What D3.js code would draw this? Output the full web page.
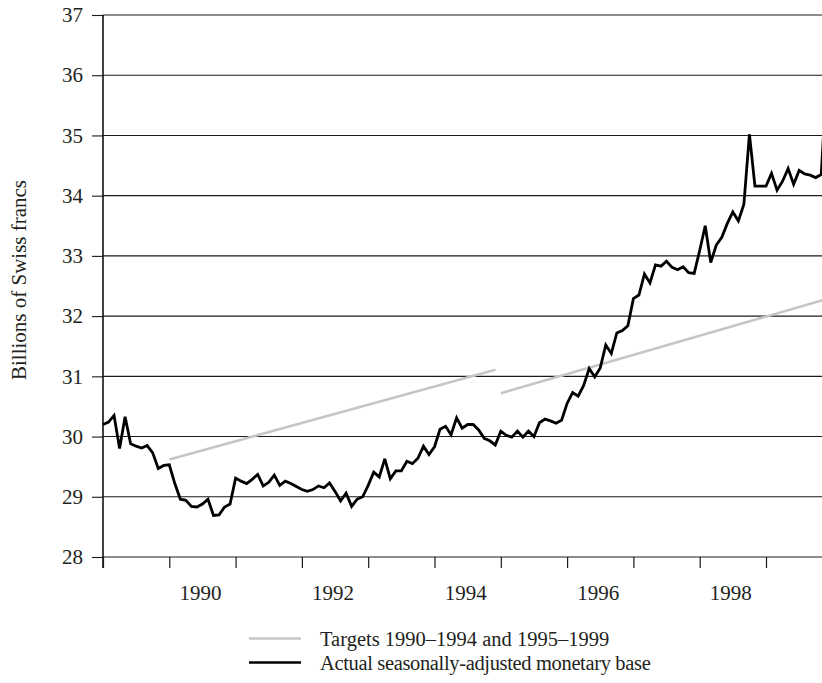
<!DOCTYPE html>
<html><head><meta charset="utf-8">
<script src="https://cdn.jsdelivr.net/npm/d3@7"></script>
<style>
body{margin:0;background:#fff}
svg{display:block}
text{font-family:"Liberation Serif","Times New Roman",serif;fill:#231f20}
</style>
</head><body>
<svg id="chart" width="822" height="683"></svg>
<script>
// ---- data ----
const startYear = 1989; // first monthly observation: Jan 1989
const monetaryBase = [
  // 1989
  30.20, 30.24, 30.35, 29.80, 30.33, 29.88, 29.84, 29.81, 29.85, 29.73, 29.47, 29.52,
  // 1990
  29.53, 29.22, 28.96, 28.94, 28.84, 28.83, 28.88, 28.96, 28.69, 28.70, 28.83, 28.88,
  // 1991
  29.31, 29.26, 29.22, 29.29, 29.37, 29.18, 29.24, 29.36, 29.19, 29.26, 29.22, 29.17,
  // 1992
  29.12, 29.09, 29.12, 29.18, 29.15, 29.23, 29.09, 28.93, 29.06, 28.84, 28.96, 29.00,
  // 1993
  29.19, 29.41, 29.33, 29.63, 29.30, 29.43, 29.43, 29.59, 29.55, 29.64, 29.84, 29.70,
  // 1994
  29.83, 30.12, 30.17, 30.03, 30.31, 30.14, 30.20, 30.20, 30.11, 29.97, 29.93, 29.86,
  // 1995
  30.09, 30.02, 29.99, 30.09, 29.99, 30.09, 30.00, 30.23, 30.29, 30.26, 30.22, 30.27,
  // 1996
  30.55, 30.73, 30.67, 30.85, 31.13, 30.99, 31.14, 31.52, 31.38, 31.72, 31.76, 31.84,
  // 1997
  32.29, 32.35, 32.70, 32.55, 32.85, 32.83, 32.91, 32.81, 32.77, 32.82, 32.72, 32.71,
  // 1998
  33.09, 33.50, 32.89, 33.18, 33.31, 33.54, 33.73, 33.58, 33.86, 35.02, 34.16, 34.16,
  // 1999
  34.16, 34.37, 34.09, 34.24, 34.45, 34.19, 34.42, 34.36, 34.34, 34.30, 34.35, 36.00
];
const target1Years = [1990, 1994.92];
const target1Values = [29.62, 31.11];
const target2Years = [1995, 2000];
const target2Values = [30.72, 32.31];
const yTicks = [28, 29, 30, 31, 32, 33, 34, 35, 36, 37];
const xTickYears = [1989, 1990, 1991, 1992, 1993, 1994, 1995, 1996, 1997, 1998, 1999, 2000];
const xLabelYears = [1990, 1992, 1994, 1996, 1998];
const yAxisTitle = "Billions of Swiss francs";
const legendLabels = ["Targets 1990\u20131994 and 1995\u20131999", "Actual seasonally-adjusted monetary base"];
const legendColors = ["#c6c6c6", "#000000"];

// ---- chart ----
const svg = d3.select("#chart");
const plotLeft = 103, plotTop = 15, plotBottom = 557, yearPx = 66.3;
const x = d3.scaleLinear().domain([1989, 2000]).range([plotLeft, plotLeft + 11 * yearPx]);
const y = d3.scaleLinear().domain([28, 37]).range([plotBottom, plotTop]);

// gridlines
svg.append("g").selectAll("line").data(yTicks).join("line")
  .attr("x1", plotLeft).attr("x2", x(2000))
  .attr("y1", d => y(d)).attr("y2", d => y(d))
  .attr("stroke", "#1a1a1a").attr("stroke-width", 1.1);

// y axis
const yAxis = d3.axisLeft(y).tickValues(yTicks).tickSize(11).tickPadding(9).tickFormat(d3.format("d"));
const gy = svg.append("g").attr("transform", `translate(${plotLeft},0)`).call(yAxis);
gy.select(".domain").remove();
gy.selectAll(".tick line").attr("stroke", "#1a1a1a").attr("stroke-width", 1.1);
gy.selectAll(".tick text").attr("font-size", 21).attr("font-family", "Liberation Serif").attr("fill", "#231f20");
svg.append("line").attr("x1", plotLeft).attr("x2", plotLeft).attr("y1", plotTop).attr("y2", plotBottom + 11)
  .attr("stroke", "#111").attr("stroke-width", 1.6);

// x axis ticks
const xAxis = d3.axisBottom(x).tickValues(xTickYears).tickSize(11).tickFormat("");
const gx = svg.append("g").attr("transform", `translate(0,${plotBottom})`).call(xAxis);
gx.select(".domain").remove();
gx.selectAll(".tick line").attr("stroke", "#1a1a1a").attr("stroke-width", 1.2);
svg.append("g").selectAll("text").data(xLabelYears).join("text")
  .attr("x", d => x(d + 0.47)).attr("y", 600)
  .attr("text-anchor", "middle").attr("font-size", 21).text(d => d);

// y title
svg.append("text").attr("transform", `translate(26,280) rotate(-90)`)
  .attr("text-anchor", "middle").attr("font-size", 21).text(yAxisTitle);

// targets
const tline = d3.line().x(d => x(d[0])).y(d => y(d[1]));
[[target1Years, target1Values], [target2Years, target2Values]].forEach(([ys, vs]) => {
  svg.append("path").datum(d3.zip(ys, vs)).attr("d", tline)
    .attr("fill", "none").attr("stroke", legendColors[0]).attr("stroke-width", 2.6);
});

// actual
const pts = monetaryBase.map((v, i) => [startYear + i / 12, v]);
svg.append("path").datum(pts).attr("d", tline)
  .attr("fill", "none").attr("stroke", legendColors[1]).attr("stroke-width", 2.8)
  .attr("stroke-linejoin", "miter").attr("stroke-miterlimit", 3);

// legend
const lg = svg.append("g").selectAll("g").data(legendLabels).join("g")
  .attr("transform", (d, i) => `translate(249,${638.5 + i * 24})`);
lg.append("line").attr("x1", 0).attr("x2", 52).attr("y1", 0).attr("y2", 0)
  .attr("stroke", (d, i) => legendColors[i]).attr("stroke-width", 2.6);
lg.append("text").attr("x", 71).attr("y", 7).attr("font-size", 20.5)
  .attr("letter-spacing", (d, i) => i === 1 ? -0.35 : 0).text(d => d);
</script>
</body></html>
